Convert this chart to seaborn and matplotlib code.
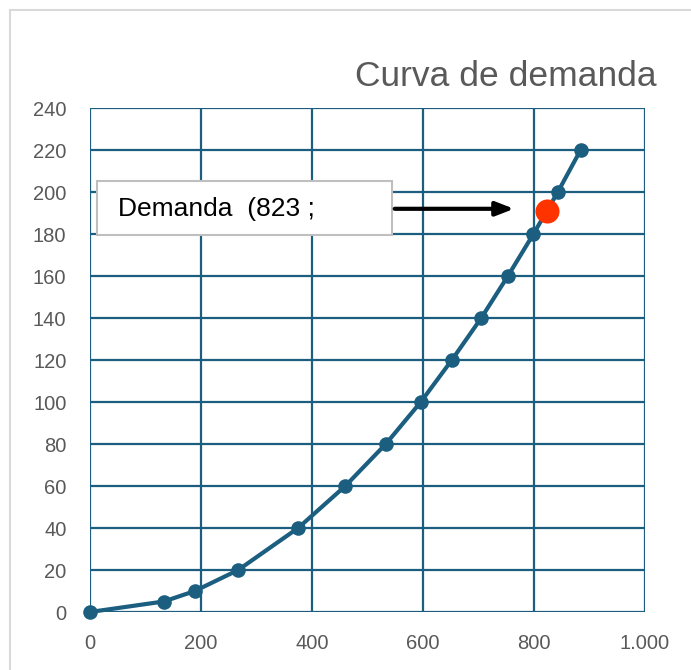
import matplotlib
matplotlib.use("Agg")
import matplotlib.pyplot as plt
import matplotlib.patches as mpatches
import seaborn as sns
import numpy as np

# valores
cantidad = [0, 133, 189, 267, 375, 460, 533, 596, 652, 705, 753, 799, 843, 884]
precio = [0, 5, 10, 20, 40, 60, 80, 100, 120, 140, 160, 180, 200, 220]
punto_q = [823]
punto_p = [191]
etiqueta = "Demanda  (823 ;"
titulo = "Curva de demanda"
x_ticks = [0, 200, 400, 600, 800, 1000]
x_labels = ["0", "200", "400", "600", "800", "1.000"]
y_ticks = list(range(0, 241, 20))

sns.set_theme(style="white")
plt.rcParams["font.family"] = ["Liberation Sans", "DejaVu Sans"]

azul = "#1b5e80"
gris = "#595959"

fig = plt.figure(figsize=(6.91, 6.70), dpi=100)
fig.patch.set_facecolor("white")
# marco del área del gráfico
fig.patches.append(mpatches.Rectangle((10 / 691, -0.05), 1.2, (660 / 670) + 0.05,
                                      transform=fig.transFigure, fill=False,
                                      edgecolor="#d9d9d9", linewidth=1.5))

ax = fig.add_axes([90 / 691, 58 / 670, 555 / 691, 504 / 670])

sns.lineplot(x=cantidad, y=precio, ax=ax, color=azul, linewidth=3,
             marker="o", markersize=10.5, markeredgewidth=0, zorder=3,
             clip_on=False)
sns.scatterplot(x=punto_q, y=punto_p, ax=ax, color="#ff3300", s=300,
                linewidth=0, zorder=4)

ax.set_xlim(0, 1000)
ax.set_ylim(0, 240)
ax.set_xticks(x_ticks)
ax.set_xticklabels(x_labels)
ax.set_yticks(y_ticks)
ax.grid(True, color=azul, linewidth=1.6)
for s in ax.spines.values():
    s.set_visible(False)
ax.tick_params(axis="both", length=0, labelsize=14.5, labelcolor=gris)
ax.tick_params(axis="x", pad=16)
ax.tick_params(axis="y", pad=17)

fig.text(657 / 691, 1 - 77 / 670, titulo, ha="right", va="center",
         fontsize=25.5, color=gris)

# cuadro de la etiqueta y flecha
x0, x1 = 12.6, 544
ax.add_patch(mpatches.Rectangle((x0, 179.5), x1 - x0, 25.7, facecolor="white",
                                edgecolor="#bfbfbf", linewidth=1.5, zorder=5,
                                clip_on=False))
ax.text(50, 191.9, etiqueta, fontsize=19, color="black", va="center",
        ha="left", zorder=6)
ax.annotate("", xy=(punto_q[0] - 54, punto_p[0] + 1), xytext=(x1, punto_p[0] + 1),
            arrowprops=dict(arrowstyle="-|>,head_length=0.9,head_width=0.35",
                            color="black", lw=3), zorder=6)

fig.savefig("out.png", dpi=100)
